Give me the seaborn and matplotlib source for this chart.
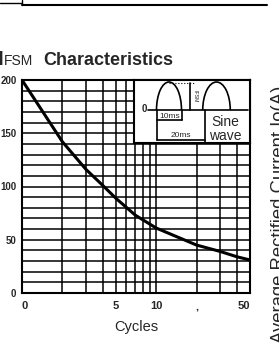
import matplotlib
matplotlib.use("Agg")
import matplotlib.pyplot as plt
from matplotlib.patches import Arc
from matplotlib.lines import Line2D
import seaborn as sns

# surge current vs number of cycles
cycles = [1, 2, 3, 4, 5, 7, 10, 20, 30, 40, 50]
ifsm = [200, 142, 116, 101, 89, 73, 61, 45, 39, 34, 31]

x_ticks = [1, 5, 10, 20, 50]
x_labels = ['0', '5', '10', ',', '50']
x_grid = [2, 3, 4, 6, 7, 8, 9, 30, 40]
y_ticks = [0, 50, 100, 150, 200]

sns.set_style("white")
plt.rcParams['font.family'] = ['Liberation Sans', 'DejaVu Sans']

W, H = 279, 350
fig = plt.figure(figsize=(W / 100, H / 100), dpi=100)
ax = fig.add_axes([22 / W, 1 - 293 / H, 228 / W, 213 / H])

sns.lineplot(x=cycles, y=ifsm, ax=ax, color='black', linewidth=2.2)

ax.set_xscale('log')
ax.set_xlim(1, 50)
ax.set_ylim(0, 200)
ax.set_xticks(x_ticks)
ax.set_xticklabels(x_labels, fontsize=8, fontweight='bold')
ax.set_xticks(x_grid, minor=True)
ax.xaxis.set_minor_formatter(matplotlib.ticker.NullFormatter())
ax.set_yticks(y_ticks)
ax.set_yticklabels([str(v) for v in y_ticks], fontsize=7, fontweight='bold')
ax.set_yticks(range(0, 201, 10), minor=True)
ax.tick_params(which='both', length=0)
ax.tick_params(axis='y', pad=4)
ax.tick_params(axis='x', pad=6)
labels = ax.get_xticklabels()
labels[0].set_ha('left')
labels[-1].set_ha('right')
ax.grid(which='both', color='black', linewidth=1.1)
for s in ax.spines.values():
    s.set_color('black')
    s.set_linewidth(1.5)
ax.set_xlabel('Cycles', fontsize=10.5, labelpad=6)

# inset box with the waveform sketch (coords in reference pixels)
ins = ax.inset_axes([(134 - 22) / 228, (293 - 143) / 213, 116 / 228, 63 / 213])
ins.set_xlim(134, 250)
ins.set_ylim(143, 80)
ins.set_xticks([])
ins.set_yticks([])
ins.set_facecolor('white')
for s in ins.spines.values():
    s.set_color('black')
    s.set_linewidth(1.5)
k = dict(color='black', linewidth=1.2)
ins.plot([148, 248], [110, 110], **k)
ins.add_patch(Arc((169, 110), 25, 56, theta1=180, theta2=360, **k))
ins.add_patch(Arc((216.5, 110), 27.5, 56, theta1=180, theta2=360, **k))
ins.plot([157, 157], [110, 140], **k)
ins.plot([181.5, 181.5], [110, 120], **k)
ins.plot([157, 181.5], [120, 120], **k)
ins.plot([157, 205], [140, 140], **k)
ins.plot([205, 205], [110, 143], **k)
ins.plot([189.5, 189.5], [83, 110], **k)
ins.plot([169, 195], [82.5, 82.5], color='black', linewidth=0.8, linestyle=':')
ins.text(144, 108.5, '0', fontsize=7, fontweight='bold', ha='center', va='center')
ins.text(169.5, 116, '10ms', fontsize=6, ha='center', va='center')
ins.text(181, 135.5, '20ms', fontsize=6, ha='center', va='center')
ins.text(195, 96, 'IFSM', fontsize=3.8, rotation=270, ha='center', va='center')
ins.text(225, 122, 'Sine', fontsize=10, ha='center', va='center')
ins.text(225, 135.5, 'wave', fontsize=10, ha='center', va='center')

# title
fig.text(-2 / W, 1 - 65 / H, 'I', fontsize=15, fontweight='bold', va='baseline')
fig.text(4 / W, 1 - 65 / H, 'FSM', fontsize=10, va='baseline')
fig.text(43 / W, 1 - 65 / H, 'Characteristics', fontsize=13, fontweight='bold', va='baseline')

# neighbouring chart's axis label, cut by the page edge
fig.text(271 / W, 1 - 86 / H, 'Average Rectified Current Io(A)', fontsize=13.3,
         rotation=90, ha='left', va='top')

# frame line at the top of the page
fig.add_artist(Line2D([0, 21.7 / W], [1 - 3 / H, 1 - 3 / H], color='black', linewidth=1))
fig.add_artist(Line2D([21.7 / W, 21.7 / W], [1, 1 - 4.5 / H], color='black', linewidth=1))
fig.add_artist(Line2D([21.7 / W, 267 / W], [1 - 4.5 / H, 1 - 4.5 / H], color='black', linewidth=1.5))

fig.savefig('out.png', dpi=100)
